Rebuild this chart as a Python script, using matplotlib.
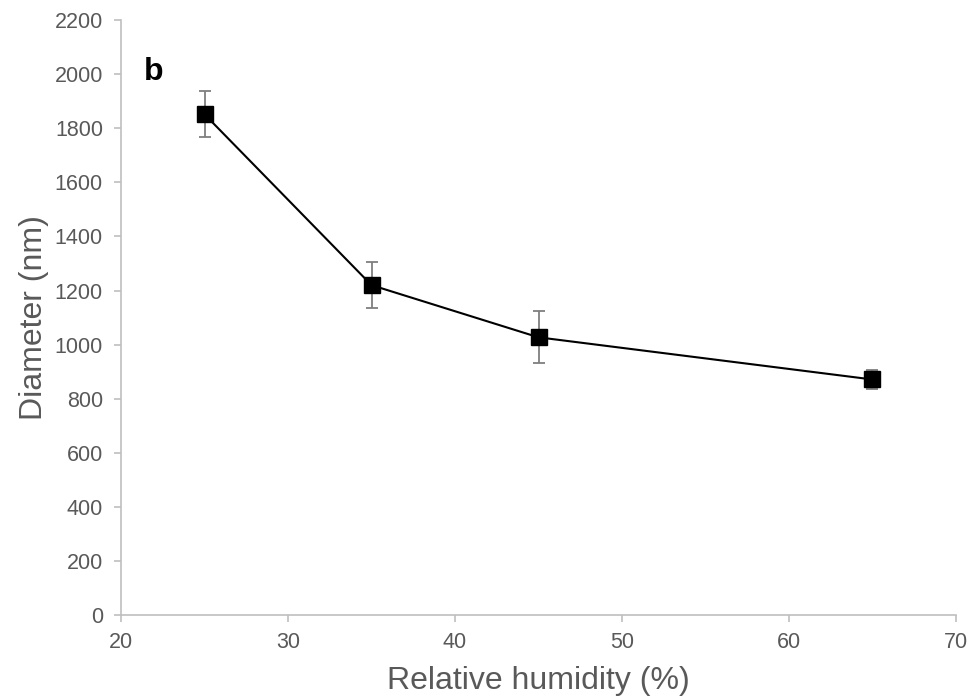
import matplotlib.pyplot as plt

# humidity (%) vs fibre diameter (nm)
humidity = [25, 35, 45, 65]
diameter = [1852, 1220, 1027, 871]
diameter_err = [85, 85, 96, 34]

x_ticks = [20, 30, 40, 50, 60, 70]
y_ticks = list(range(0, 2201, 200))

plt.rcParams['font.family'] = ['Liberation Sans', 'DejaVu Sans']

fig = plt.figure(figsize=(9.76, 6.98), dpi=100)
ax = fig.add_axes([0.124, 0.119, 0.8555, 0.852])

ax.errorbar(humidity, diameter, yerr=diameter_err, fmt='none', ecolor='#7f7f7f',
            elinewidth=1.3, capsize=4.5, capthick=1.3, zorder=2)
ax.plot(humidity, diameter, color='black', lw=1.5, marker='s', markersize=11,
        markerfacecolor='black', markeredgecolor='black', zorder=3)

ax.set_xlim(20, 70)
ax.set_ylim(0, 2200)
ax.set_xticks(x_ticks)
ax.set_yticks(y_ticks)

for side in ['top', 'right']:
    ax.spines[side].set_visible(False)
for side in ['left', 'bottom']:
    ax.spines[side].set_color('#bfbfbf')
    ax.spines[side].set_linewidth(1.2)

ax.tick_params(axis='both', direction='out', length=5, width=1.2, color='#bfbfbf',
               labelsize=15.5, labelcolor='#595959')
ax.tick_params(axis='y', pad=8)
ax.tick_params(axis='x', pad=7)

ax.set_xlabel('Relative humidity (%)', fontsize=23, color='#595959', labelpad=10)
ax.set_ylabel('Diameter (nm)', fontsize=23, color='#595959', labelpad=4)

ax.text(0.027, 0.913, 'b', transform=ax.transAxes, fontsize=23, fontweight='bold',
        color='black', va='center', ha='left')

fig.savefig('out.png', dpi=100)
